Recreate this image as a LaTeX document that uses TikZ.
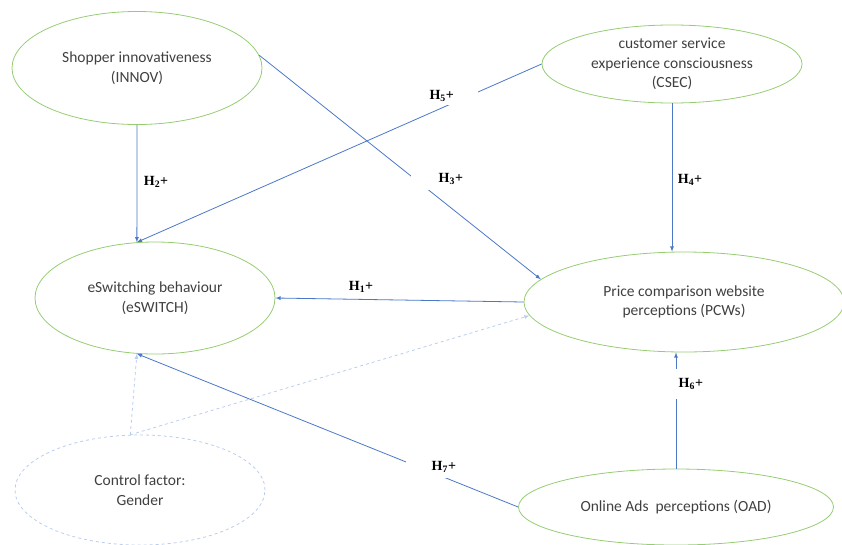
\documentclass[tikz,border=0pt]{standalone}
\usepackage{fontspec}
\setmainfont{Carlito}
\newfontfamily\labfont{Liberation Serif}
\usepackage{tikz}
\usetikzlibrary{arrows,shapes}
\definecolor{ovalgreen}{RGB}{150,205,115}
\definecolor{linkblue}{RGB}{75,120,200}
\definecolor{paleblue}{RGB}{185,205,238}

\begin{document}
\begin{tikzpicture}[x=1pt,y=-1pt]

\tikzstyle{oval}=[ellipse, draw=ovalgreen, line width=0.8pt, inner sep=0pt,
                  align=center, text=black!75, font=\fontsize{15.5}{19.5}\selectfont]
\tikzstyle{conn}=[draw=linkblue, line width=0.8pt, -latex]
\tikzstyle{ctrl}=[draw=paleblue, dashed, line width=0.8pt, -latex]
\tikzstyle{hyp}=[inner sep=1pt, font=\labfont\bfseries\fontsize{14}{16}\selectfont]

\useasboundingbox (0,0) rectangle (842,544);

%constructs
\node[oval, minimum width=250pt, minimum height=113pt] (innov) at (137,68) {Shopper innovativeness\\(INNOV)};
\node[oval, minimum width=260pt, minimum height=78pt] (csec) at (672,64) {customer service\\experience consciousness\\(CSEC)};
\node[oval, minimum width=240pt, minimum height=112pt] (eswitch) at (155,298) {eSwitching behaviour\\(eSWITCH)};
\node[oval, minimum width=320pt, minimum height=100pt] (pcws) at (684,302) {Price comparison website\\perceptions (PCWs)};
\node[oval, minimum width=315pt, minimum height=76pt] (oad) at (676,507) {Online Ads~ perceptions (OAD)};
\node[oval, draw=paleblue, dashed, minimum width=250pt, minimum height=110pt] (gender) at (140,490) {Control factor:\\Gender};

%paths
\draw[conn] (innov) -- (eswitch.108);
\draw[conn] (csec.west) -- (eswitch.108);
\draw[conn] (innov.6) -- (pcws.171);
\draw[conn] (pcws.west) -- (eswitch.east);
\draw[conn] (csec.south) -- (csec.south |- pcws.north);
\draw[conn] (oad.north) -- (oad.north |- pcws.south);
\draw[conn] (oad.west) -- (eswitch.252);
\draw[ctrl] (gender.100) -- (eswitch.252);
\draw[ctrl] (gender.100) -- (pcws.185);

%hypotheses
\node[hyp] (h1) at (361,287) {H\textsubscript{1}+};
\node[hyp] (h2) at (156,182) {H\textsubscript{2}+};
\node[hyp, fill=white, text width=51pt, align=right, minimum height=22pt] (h3) at (437.5,179) {H\textsubscript{3}+};
\node[hyp] (h4) at (690,180) {H\textsubscript{4}+};
\node[hyp, fill=white, text width=47pt, align=left, minimum height=18pt] (h5) at (453,96) {H\textsubscript{5}+};
\node[hyp, fill=white, text width=33pt, align=right, minimum height=30pt] (h6) at (686.5,384) {H\textsubscript{6}+};
\node[hyp, fill=white, text width=49pt, align=right, minimum height=23pt] (h7) at (431.5,466.5) {H\textsubscript{7}+};

\end{tikzpicture}
\end{document}
